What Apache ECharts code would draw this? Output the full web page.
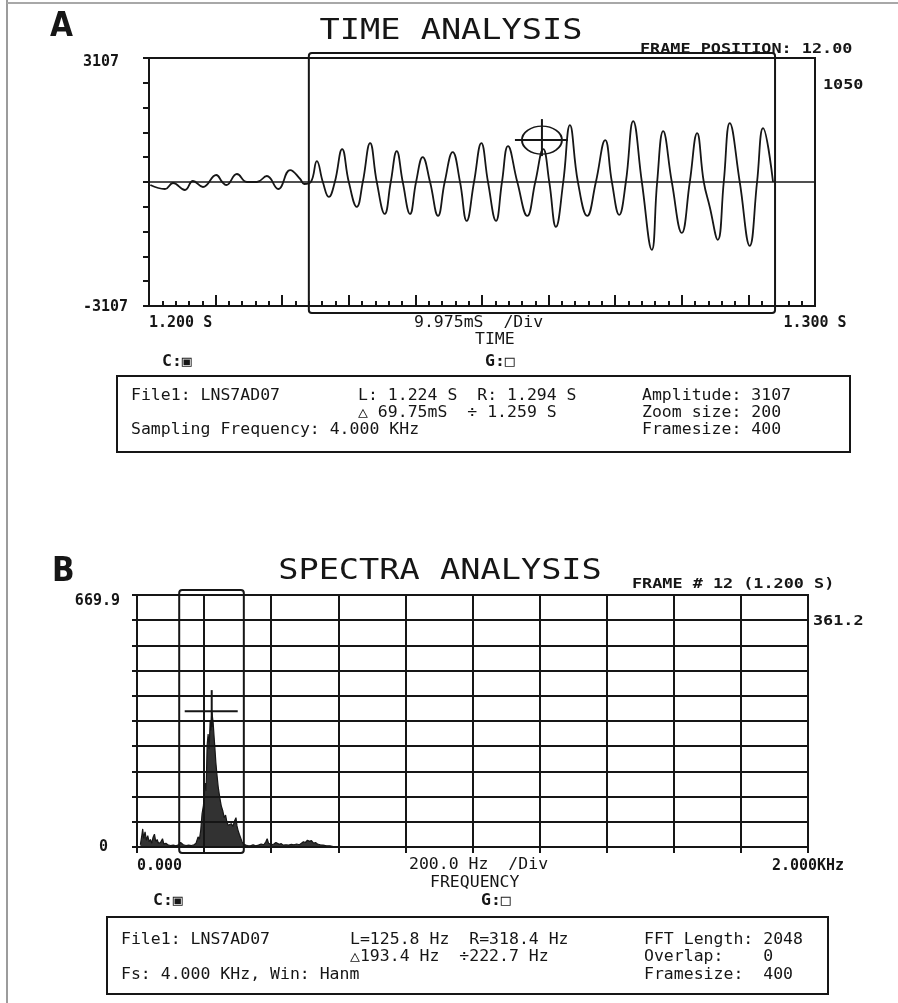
<!DOCTYPE html>
<html>
<head>
<meta charset="utf-8">
<script src="https://cdn.jsdelivr.net/npm/echarts@6/dist/echarts.min.js"></script>
<style>
  html, body { margin: 0; padding: 0; background: #fff; }
  #chart { width: 898px; height: 1003px; }
</style>
</head>
<body>
<div id="chart"></div>
<script>
// A: time trace, time in ms and amplitude in counts
const timeMs = [
  1200.2, 1202.4, 1203.6, 1205.4, 1206.6, 1208.1, 1210.1, 1211.0, 1211.6, 1213.2,
  1214.7, 1216.2, 1217.7, 1219.4, 1221.2, 1222.7, 1223.3,
  1224.3, 1225.2, 1226.1, 1227.0, 1227.9, 1229.0, 1230.0, 1231.2, 1232.1, 1233.2,
  1234.2, 1235.4, 1236.3, 1237.2, 1238.1, 1239.2, 1240.1, 1241.1, 1242.2, 1243.4,
  1244.4, 1245.6, 1246.7, 1247.7, 1248.8, 1249.9, 1250.9, 1252.1, 1253.0, 1253.9,
  1255.3, 1256.8, 1258.0, 1259.2, 1260.1, 1261.1, 1262.2, 1263.2, 1264.4, 1265.8,
  1267.1, 1268.5, 1269.5, 1270.6, 1271.6, 1272.7, 1274.0, 1275.5, 1276.3, 1277.2,
  1278.5, 1280.0, 1281.2, 1282.3, 1283.3, 1284.2, 1285.4, 1286.3, 1287.2, 1288.7,
  1290.2, 1291.3, 1292.2, 1293.7
];
const amplitude = [
  -75, -175, -25, -200, 25, -125, 175, 0, -75, 200,
  0, 0, 150, -175, 300, 75, -50,
  0, 525, 0, -375, 0, 825, 0, -625, 0, 975,
  0, -800, 0, 775, 0, -800, 0, 625, 0, -850,
  0, 750, 0, -975, 0, 975, 0, -975, 0, 900,
  0, -850, 0, 825, 0, -1125, 0, 1425, 0, -850,
  0, 1050, 0, -825, 0, 1525, 0, -1700, 0, 1275,
  0, -1275, 0, 1225, 0, -625, -1450, 0, 1475, 0,
  -1600, 0, 1350, 0
];

// B: magnitude spectrum
const freqHz = [
  10, 14, 17, 20, 24, 28, 32, 36, 40, 44, 48, 52, 56, 60, 64, 70, 76, 80, 86, 92,
  100, 108, 116, 124, 130, 134, 138, 146, 154, 162, 170, 176, 182, 186, 190, 194, 198, 203, 206, 209,
  212, 215, 218, 220, 223, 225, 227, 230, 232, 235, 238, 242, 247, 251, 256, 260, 264, 268, 272, 277,
  281, 286, 291, 295, 298, 301, 305, 309, 313, 318, 324, 330, 338, 346, 354, 362, 370, 378, 384, 388,
  392, 397, 402, 408, 414, 418, 424, 430, 436, 444, 452, 460, 468, 476, 484, 490, 496, 502, 508, 514,
  520, 526, 532, 538, 546, 555, 565, 575, 585
];
const magnitude = [
  6, 28, 48, 22, 40, 18, 30, 14, 20, 10, 26, 34, 14, 20, 10, 12, 22, 8, 10, 6,
  4, 5, 3, 6, 12, 16, 6, 4, 5, 4, 6, 10, 27, 20, 45, 89, 110, 170, 150, 270,
  300, 260, 335, 310, 361, 345, 330, 290, 265, 225, 195, 160, 130, 110, 95, 78, 85, 66, 58, 55,
  62, 55, 70, 78, 56, 45, 34, 24, 14, 8, 5, 4, 3, 6, 3, 5, 8, 6, 14, 22,
  10, 13, 6, 8, 12, 13, 7, 9, 5, 6, 5, 7, 6, 8, 6, 10, 14, 12, 18, 15,
  17, 10, 12, 8, 6, 5, 3, 3, 1
];

const timeTicks = ['1.200 S', '1.300 S'];
const ampTicks = ['-3107', '3107'];
const freqTicks = ['0.000', '2.000KHz'];
const magTicks = ['0', '669.9'];

// cursors
const zoomL = 1224, zoomR = 1294, cursorT = 1259, cursorAmp = 1050;
const specL = 125.8, specR = 318.4, specX = 222.7, specY = 361.2;

const ink = '#161616';
const mono = '"DejaVu Sans Mono", "Liberation Mono", monospace';

const chart = echarts.init(document.getElementById('chart'));

const near = (a, b) => Math.abs(a - b) < 1e-6 * Math.max(1, Math.abs(b));
const tickFont = { fontFamily: mono, fontSize: 15, fontWeight: 'bold', color: ink };

chart.setOption({
  backgroundColor: '#ffffff',
  animation: false,
  grid: [
    { left: 149, top: 58, width: 666, height: 248, show: true, borderColor: ink, borderWidth: 2 },
    { left: 137, top: 595, width: 671, height: 252, show: true, borderColor: ink, borderWidth: 2 }
  ],
  xAxis: [
    {
      gridIndex: 0, type: 'value', min: 1200, max: 1300, interval: 10,
      axisLine: { onZero: false, lineStyle: { color: ink, width: 2 } },
      axisTick: { inside: true, length: 11, lineStyle: { color: ink, width: 2 } },
      minorTick: { show: true, splitNumber: 5, length: 5, lineStyle: { color: ink, width: 2 } },
      splitLine: { show: false },
      axisLabel: Object.assign({
        margin: 10, showMinLabel: true, showMaxLabel: true, alignMinLabel: 'left', alignMaxLabel: 'center',
        formatter: v => near(v, 1200) ? timeTicks[0] : near(v, 1300) ? timeTicks[1] : ''
      }, tickFont)
    },
    {
      gridIndex: 1, type: 'value', min: 0, max: 2000, interval: 200,
      axisLine: { onZero: false, lineStyle: { color: ink, width: 2 } },
      axisTick: { length: 6, lineStyle: { color: ink, width: 2 } },
      splitLine: { show: true, lineStyle: { color: ink, width: 2 } },
      axisLabel: Object.assign({
        margin: 12, showMinLabel: true, showMaxLabel: true, alignMinLabel: 'left', alignMaxLabel: 'center',
        formatter: v => near(v, 0) ? freqTicks[0] : near(v, 2000) ? freqTicks[1] : ''
      }, tickFont)
    }
  ],
  yAxis: [
    {
      gridIndex: 0, type: 'value', min: -3107, max: 3107, interval: 621.4,
      axisLine: { show: true, onZero: false, lineStyle: { color: ink, width: 2 } },
      axisTick: { show: true, length: 6, lineStyle: { color: ink, width: 2 } },
      splitLine: { show: false },
      axisLabel: Object.assign({
        margin: 66, align: 'left',
        formatter: v => near(v, -3107) ? '{b|' + ampTicks[0] + '}' : near(v, 3107) ? '{t|' + ampTicks[1] + '}' : '',
        rich: {
          t: Object.assign({ padding: [8, 0, 0, 0] }, tickFont),
          b: Object.assign({ padding: [3, 0, 0, 0] }, tickFont)
        }
      }, tickFont)
    },
    {
      gridIndex: 1, type: 'value', min: 0, max: 669.9, interval: 66.99,
      axisLine: { show: true, onZero: false, lineStyle: { color: ink, width: 2 } },
      axisTick: { show: true, length: 5, lineStyle: { color: ink, width: 2 } },
      splitLine: { show: true, lineStyle: { color: ink, width: 2 } },
      axisLabel: Object.assign({
        margin: 17,
        formatter: v => near(v, 0) ? '{z|' + magTicks[0] + '}' : near(v, 669.9) ? '{t|' + magTicks[1] + '}' : '',
        rich: {
          z: Object.assign({ padding: [0, 12, 0, 0] }, tickFont),
          t: Object.assign({ padding: [12, 0, 0, 0] }, tickFont)
        }
      }, tickFont)
    }
  ],
  series: [
    {
      type: 'line', xAxisIndex: 0, yAxisIndex: 0,
      data: timeMs.map((t, i) => [t, amplitude[i]]),
      smooth: 0.45, showSymbol: false,
      lineStyle: { color: ink, width: 1.8 },
      markLine: {
        silent: true, symbol: 'none', label: { show: false },
        lineStyle: { color: ink, width: 1.6, type: 'solid' },
        data: [{ yAxis: 0 }]
      }
    },
    {
      type: 'line', xAxisIndex: 1, yAxisIndex: 1,
      data: freqHz.map((f, i) => [f, magnitude[i]]),
      showSymbol: false,
      lineStyle: { color: ink, width: 1.2 },
      areaStyle: { color: ink, opacity: 0.88 }
    }
  ]
});

function label(x, y, text, o = {}) {
  const align = o.align || 'left';
  return {
    type: 'text', x, y, scaleX: o.sx || 1.1, silent: true,
    style: {
      text, fill: ink,
      font: (o.weight || 'normal') + ' ' + (o.size || 15) + 'px ' + (o.family || mono),
      align, textAlign: align, verticalAlign: 'middle', textVerticalAlign: 'middle'
    }
  };
}
function seg(x1, y1, x2, y2, w, color) {
  return { type: 'line', silent: true, shape: { x1, y1, x2, y2 }, style: { stroke: color || ink, lineWidth: w || 2 } };
}
function box(x, y, w, h, r) {
  return { type: 'rect', silent: true, shape: { x, y, width: w, height: h, r: r || 0 }, style: { fill: null, stroke: ink, lineWidth: 2 } };
}

const gA = { gridIndex: 0 }, gB = { gridIndex: 1 };
const aL = chart.convertToPixel(gA, [zoomL, 3107]);
const aR = chart.convertToPixel(gA, [zoomR, -3107]);
const aC = chart.convertToPixel(gA, [cursorT, cursorAmp]);
const bL = chart.convertToPixel(gB, [specL, 669.9]);
const bR = chart.convertToPixel(gB, [specR, 0]);
const bC = chart.convertToPixel(gB, [specX, specY]);

const bold = 'bold';
const letterFont = '"Liberation Sans Narrow", "DejaVu Sans Condensed", sans-serif';
const graphic = [
  // scan page edges
  seg(7, 0, 7, 1003, 2, '#9c9c9c'),
  seg(7, 3, 898, 3, 2, '#a8a8a8'),

  // panel A
  label(50, 27, 'A', { size: 33, weight: bold, family: letterFont, sx: 1 }),
  label(451, 32, 'TIME ANALYSIS', { size: 28, align: 'center', sx: 1.2 }),
  label(640, 49, 'FRAME POSITION: 12.00', { weight: bold, size: 14, sx: 1.2 }),
  label(823, 85, String(cursorAmp), { weight: bold, size: 14, sx: 1.2 }),
  box(aL[0], aL[1] - 5, aR[0] - aL[0], aR[1] - aL[1] + 12, 3),
  {
    type: 'group', x: aC[0], y: aC[1], silent: true,
    children: [
      { type: 'circle', shape: { cx: 0, cy: 0, r: 20 }, scaleY: 0.7, style: { fill: null, stroke: ink, lineWidth: 2, strokeNoScale: true } },
      seg(-27, 0, 26, 0, 2),
      seg(0, -21, 0, 16, 2)
    ]
  },
  label(414, 323, '9.975mS  /Div', { sx: 1.1 }),
  label(475, 340, 'TIME', { sx: 1.1 }),
  label(162, 362, 'C:\u25A3', { weight: bold }),
  label(485, 362, 'G:\u25A1', { weight: bold }),
  box(117, 376, 733, 76),
  label(131, 396, 'File1: LNS7AD07'),
  label(358, 396, 'L: 1.224 S  R: 1.294 S'),
  label(358, 413, '\u25B3 69.75mS  \u00F7 1.259 S'),
  label(131, 430, 'Sampling Frequency: 4.000 KHz'),
  label(642, 396, 'Amplitude: 3107'),
  label(642, 413, 'Zoom size: 200'),
  label(642, 430, 'Framesize: 400'),

  // panel B
  label(52, 572, 'B', { size: 33, weight: bold, family: letterFont, sx: 1 }),
  label(440, 572, 'SPECTRA ANALYSIS', { size: 28, align: 'center', sx: 1.2 }),
  label(632, 584, 'FRAME # 12 (1.200 S)', { weight: bold, size: 14, sx: 1.2 }),
  label(813, 621, String(specY), { weight: bold, size: 14, sx: 1.2 }),
  box(bL[0], bL[1] - 5, bR[0] - bL[0], bR[1] - bL[1] + 11, 3),
  seg(bC[0] - 27, bC[1], bC[0] + 26, bC[1], 2),
  seg(bC[0], bC[1] - 21, bC[0], bC[1] + 16, 2),
  label(409, 865, '200.0 Hz  /Div'),
  label(430, 883, 'FREQUENCY'),
  label(153, 901, 'C:\u25A3', { weight: bold }),
  label(481, 901, 'G:\u25A1', { weight: bold }),
  box(107, 917, 721, 77),
  label(121, 940, 'File1: LNS7AD07'),
  label(350, 940, 'L=125.8 Hz  R=318.4 Hz'),
  label(350, 957, '\u25B3193.4 Hz  \u00F7222.7 Hz'),
  label(121, 975, 'Fs: 4.000 KHz, Win: Hanm'),
  label(644, 940, 'FFT Length: 2048'),
  label(644, 957, 'Overlap:    0'),
  label(644, 975, 'Framesize:  400')
];

chart.setOption({ graphic });
</script>
</body>
</html>
